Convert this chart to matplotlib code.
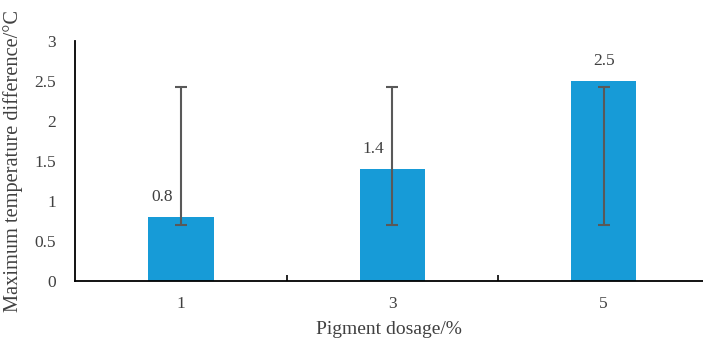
import numpy as np
import matplotlib.pyplot as plt

dosage = ['1', '3', '5']
temp_diff = [0.8, 1.4, 2.5]
err_low = [0.7, 0.7, 0.7]
err_high = [2.43, 2.43, 2.43]
label_dx = [-0.09, -0.09, 0.0]

plt.rcParams['font.family'] = ['Liberation Serif', 'DejaVu Serif']

fig = plt.figure(figsize=(7.03, 3.45), dpi=100)
ax = fig.add_axes([0.107, 0.1855, 0.893, 0.6955])

x = np.arange(len(dosage))
ax.bar(x, temp_diff, width=0.31, color='#179bd7', zorder=2)

# error range drawn around the midpoint of its low/high ends
lo = np.array(err_low)
hi = np.array(err_high)
mid = (lo + hi) / 2
ax.errorbar(x, mid, yerr=(hi - lo) / 2, fmt='none', ecolor='#595959',
            elinewidth=1.5, capsize=4, capthick=1.5, zorder=3)

for xi, v, dx in zip(x, temp_diff, label_dx):
    ax.text(xi + dx, v + 0.25, str(v), ha='center', va='center',
            fontsize=12.5, color='#404040')

ax.set_xlim(-0.5, 2.47)
ax.set_ylim(0, 3)
ax.set_xticks(x)
ax.set_xticklabels(dosage)
ax.set_xticks([0.5, 1.5], minor=True)
ax.tick_params(axis='x', which='major', length=0, pad=11, labelsize=12.5,
               labelcolor='#404040')
ax.tick_params(axis='x', which='minor', direction='in', length=4, width=1.2)
ax.set_yticks([0, 0.5, 1, 1.5, 2, 2.5, 3])
ax.set_yticklabels(['0', '0.5', '1', '1.5', '2', '2.5', '3'])
ax.tick_params(axis='y', length=0, pad=14, labelsize=12.5, labelcolor='#404040')

for s in ['top', 'right']:
    ax.spines[s].set_visible(False)
for s in ['left', 'bottom']:
    ax.spines[s].set_linewidth(1.3)

ax.set_xlabel('Pigment dosage/%', fontsize=14, color='#404040', labelpad=6)
ax.set_ylabel('Maximum temperature difference/°C', fontsize=14.7,
              color='#404040', labelpad=8)

fig.savefig('out.png', dpi=100)
